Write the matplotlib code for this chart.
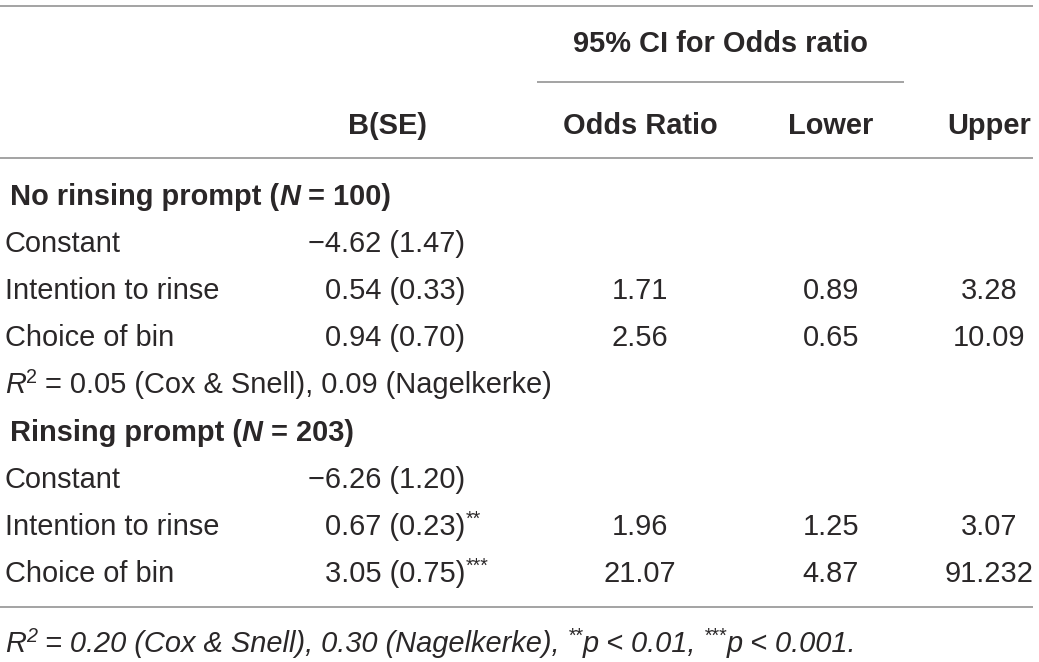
import matplotlib
matplotlib.use("Agg")
import matplotlib.pyplot as plt

plt.rcParams['font.family'] = ['Liberation Sans', 'DejaVu Sans']

# table content
col_headers = ["B(SE)", "Odds Ratio", "Lower", "Upper"]
span_header = "95% CI for Odds ratio"
groups = ["No rinsing prompt", "Rinsing prompt"]
group_n = ["100", "203"]
predictors = ["Constant", "Intention to rinse", "Choice of bin"]
b_coef = [["\u22124.62", "0.54", "0.94"], ["\u22126.26", "0.67", "3.05"]]
b_se = [["1.47", "0.33", "0.70"], ["1.20", "0.23", "0.75"]]
b_sig = [["", "", ""], ["", "**", "***"]]
odds_ratio = [["", "1.71", "2.56"], ["", "1.96", "21.07"]]
ci_lower = [["", "0.89", "0.65"], ["", "1.25", "4.87"]]
ci_upper = [["", "3.28", "10.09"], ["", "3.07", "91.232"]]
r2_cox = ["0.05", "0.20"]
r2_nagel = ["0.09", "0.30"]

TXT = '#2a2728'
RULE = '#8a8a8a'
FS = 20.9

fig = plt.figure(figsize=(10.39, 6.62), dpi=100)
ax = fig.add_axes([0, 0, 1, 1])
ax.set_xlim(0, 1039)
ax.set_ylim(662, 0)
ax.axis('off')
rend = fig.canvas.get_renderer()


def run_width(s, **kw):
    t = ax.text(0, 0, s + "|", **kw)
    w1 = t.get_window_extent(rend).width
    t.set_text("|")
    w2 = t.get_window_extent(rend).width
    t.remove()
    return w1 - w2


def draw_runs(x, y, runs):
    # runs: list of (text, style, superscript)
    for s, style, sup in runs:
        kw = dict(color=TXT, fontsize=FS * (0.68 if sup else 1.0))
        kw.update(style)
        ax.text(x, y - (10 if sup else 0), s, va='baseline', ha='left', **kw)
        x += run_width(s, **kw)
    return x


REG = {}
IT = {'style': 'italic'}
BD = {'weight': 'bold'}
BI = {'weight': 'bold', 'style': 'italic'}

# rules
for yy in [5.5, 158, 607]:
    ax.plot([0, 1033], [yy, yy], color=RULE, lw=1.1, solid_capstyle='butt')
ax.plot([537, 904], [82, 82], color=RULE, lw=1.1, solid_capstyle='butt')

# headers
ax.text(720, 52, span_header, ha='center', va='baseline', fontsize=FS, weight='bold', color=TXT)
head_x = [388, 640, 831, 989]
for hx, h in zip(head_x, col_headers):
    ax.text(hx, 134, h, ha='center', va='baseline', fontsize=FS, weight='bold', color=TXT)

# body
row_step = 47.1
y = 205
b_right = 465
for g in range(len(groups)):
    draw_runs(10, y, [(groups[g] + " (", BD, False), ("N", BI, False),
                      (" = " + group_n[g] + ")", BD, False)])
    y += row_step
    for i, p in enumerate(predictors):
        ax.text(5, y, p, ha='left', va='baseline', fontsize=FS, color=TXT)
        ax.text(b_right, y, f"{b_coef[g][i]} ({b_se[g][i]})", ha='right',
                va='baseline', fontsize=FS, color=TXT)
        if b_sig[g][i]:
            draw_runs(b_right + 1, y, [(b_sig[g][i], REG, True)])
        for cx, col in zip(head_x[1:], [odds_ratio, ci_lower, ci_upper]):
            if col[g][i]:
                ax.text(cx, y, col[g][i], ha='center', va='baseline',
                        fontsize=FS, color=TXT)
        y += row_step
    if g == 0:
        draw_runs(5, y, [("R", IT, False), ("2", REG, True),
                         (f" = {r2_cox[g]} (Cox & Snell), {r2_nagel[g]} (Nagelkerke)", REG, False)])
        y += row_step

# footnote
draw_runs(5, 652, [("R", IT, False), ("2", IT, True),
                   (f" = {r2_cox[1]} (Cox & Snell), {r2_nagel[1]} (Nagelkerke), ", IT, False),
                   ("**", IT, True), ("p < 0.01, ", IT, False),
                   ("***", IT, True), ("p < 0.001.", IT, False)])

fig.savefig("out.png", dpi=100, facecolor='white')
